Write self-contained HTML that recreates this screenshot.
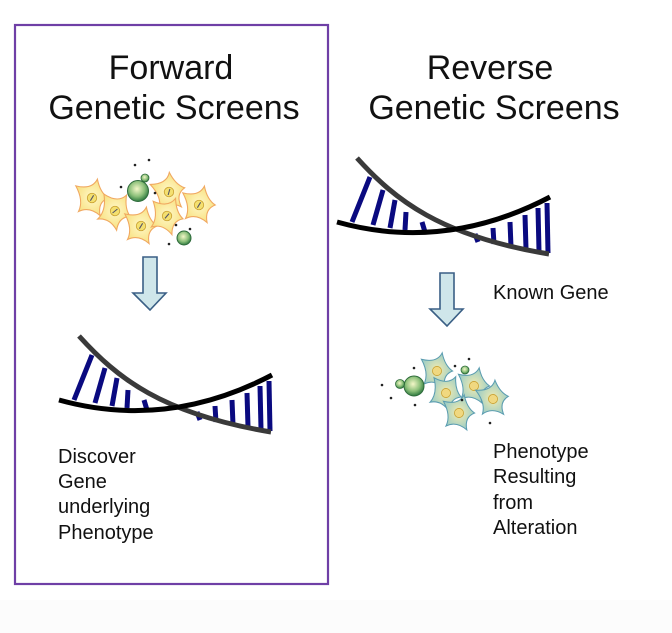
<!DOCTYPE html>
<html><head><style>
html,body{margin:0;padding:0;background:#fff;}
svg{display:block}
text{font-family:"Liberation Sans",Arial,sans-serif;fill:#111}
</style></head><body>
<svg width="672" height="633" viewBox="0 0 672 633" xmlns="http://www.w3.org/2000/svg">
<defs>
<radialGradient id="g1" cx="0.45" cy="0.4" r="0.6"><stop offset="0" stop-color="#f4f7c8"/><stop offset="0.6" stop-color="#8cc07a"/><stop offset="1" stop-color="#2f7a40"/></radialGradient>
<radialGradient id="y1" cx="0.5" cy="0.5" r="0.6"><stop offset="0" stop-color="#fff8c8"/><stop offset="1" stop-color="#f7de78"/></radialGradient>
<radialGradient id="b1" cx="0.5" cy="0.5" r="0.6"><stop offset="0" stop-color="#f4ecb0"/><stop offset="1" stop-color="#8fc8c8"/></radialGradient>
<g id="dna">
  <g stroke="#0a0a80" stroke-width="5">
    <line x1="352" y1="222" x2="370" y2="177"/>
    <line x1="373" y1="225" x2="383" y2="190"/>
    <line x1="390" y1="228" x2="395" y2="200"/>
    <line x1="405" y1="230" x2="406" y2="212"/>
    <line x1="425" y1="232" x2="422" y2="222"/>
    <line x1="475" y1="234" x2="478" y2="242"/>
    <line x1="493" y1="228" x2="494" y2="244"/>
    <line x1="510" y1="222" x2="511" y2="247"/>
    <line x1="525" y1="215" x2="526" y2="249"/>
    <line x1="538" y1="208" x2="539" y2="251"/>
    <line x1="547" y1="203" x2="548" y2="253"/>
  </g>
  <path d="M357,158 C395,200 440,236 549,254" stroke="#3a3a3a" stroke-width="5" fill="none"/>
  <path d="M337,222 Q445,252 550,197" stroke="#000" stroke-width="5" fill="none"/>
</g>
<g id="ycell"><path d="M-12,-9 Q0,-6 4,-14 Q6,-4 12,0 Q4,3 6,13 Q-2,6 -10,10 Q-6,2 -12,-9Z" fill="url(#y1)" stroke="#f0a860" stroke-width="0.8"/><circle r="3.5" fill="#f4e070" stroke="#c9a030" stroke-width="0.6"/><line x1="-1.2" y1="2" x2="1.2" y2="-2" stroke="#556" stroke-width="0.8"/></g>
<g id="bcell"><path d="M-12,-9 Q0,-6 4,-14 Q6,-4 12,0 Q4,3 6,13 Q-2,6 -10,10 Q-6,2 -12,-9Z" fill="url(#b1)" stroke="#5a9cb0" stroke-width="0.8"/><circle r="3.5" fill="#f0d880" stroke="#c9a030" stroke-width="0.6"/></g>
</defs>

<rect x="15" y="25" width="313" height="559" fill="none" stroke="#6f3fa6" stroke-width="2.2"/>
<rect x="0" y="600" width="672" height="33" fill="#fcfcfc"/>

<text x="171" y="79" font-size="34" text-anchor="middle">Forward</text>
<text x="174" y="119" font-size="34" text-anchor="middle">Genetic Screens</text>
<text x="490" y="79" font-size="34" text-anchor="middle">Reverse</text>
<text x="494" y="119" font-size="34" text-anchor="middle">Genetic Screens</text>

<!-- left cells -->
<use href="#ycell" transform="translate(92,198) scale(1.35)"/>
<use href="#ycell" transform="translate(115,211) scale(1.35) rotate(20)"/>
<use href="#ycell" transform="translate(141,226) scale(1.35)"/>
<use href="#ycell" transform="translate(169,192) scale(1.35) rotate(-15)"/>
<use href="#ycell" transform="translate(167,216) scale(1.35) rotate(10)"/>
<use href="#ycell" transform="translate(199,205) scale(1.35)"/>
<circle cx="138" cy="191" r="10.5" fill="url(#g1)" stroke="#2d6a3a" stroke-width="1"/>
<circle cx="145" cy="178" r="4" fill="url(#g1)" stroke="#2d6a3a" stroke-width="0.8"/>
<circle cx="184" cy="238" r="7" fill="url(#g1)" stroke="#2d6a3a" stroke-width="1"/>
<g fill="#222"><circle cx="135" cy="165" r="1.3"/><circle cx="149" cy="160" r="1.3"/><circle cx="121" cy="187" r="1.3"/><circle cx="155" cy="193" r="1.3"/><circle cx="176" cy="225" r="1.3"/><circle cx="190" cy="229" r="1.3"/><circle cx="169" cy="244" r="1.3"/></g>

<!-- right cells -->
<use href="#bcell" transform="translate(437,371) scale(1.3)"/>
<use href="#bcell" transform="translate(446,393) scale(1.3) rotate(15)"/>
<use href="#bcell" transform="translate(474,386) scale(1.3)"/>
<use href="#bcell" transform="translate(493,399) scale(1.3) rotate(-10)"/>
<use href="#bcell" transform="translate(459,413) scale(1.3)"/>
<circle cx="414" cy="386" r="10" fill="url(#g1)" stroke="#2d6a3a" stroke-width="1"/>
<circle cx="400" cy="384" r="4.5" fill="url(#g1)" stroke="#2d6a3a" stroke-width="0.8"/>
<circle cx="465" cy="370" r="4" fill="url(#g1)" stroke="#2d6a3a" stroke-width="0.8"/>
<g fill="#222"><circle cx="382" cy="385" r="1.3"/><circle cx="391" cy="398" r="1.3"/><circle cx="414" cy="368" r="1.3"/><circle cx="415" cy="405" r="1.3"/><circle cx="455" cy="366" r="1.3"/><circle cx="469" cy="359" r="1.3"/><circle cx="462" cy="400" r="1.3"/><circle cx="490" cy="423" r="1.3"/></g>

<!-- arrows -->
<path d="M143,257 H157 V293 H166 L150,310 L133,293 H143 Z" fill="#cfe6ea" stroke="#3a5f85" stroke-width="1.6"/>
<path d="M440,273 H454 V309 H463 L447,326 L430,309 H440 Z" fill="#cfe6ea" stroke="#3a5f85" stroke-width="1.6"/>

<!-- DNA -->
<use href="#dna"/>
<use href="#dna" transform="translate(-278,178)"/>

<g font-size="20">
<text x="58" y="463">Discover</text>
<text x="58" y="488">Gene</text>
<text x="58" y="513">underlying</text>
<text x="58" y="539">Phenotype</text>
<text x="493" y="299">Known Gene</text>
<text x="493" y="458">Phenotype</text>
<text x="493" y="483">Resulting</text>
<text x="493" y="509">from</text>
<text x="493" y="534">Alteration</text>
</g>
</svg>
</body></html>
